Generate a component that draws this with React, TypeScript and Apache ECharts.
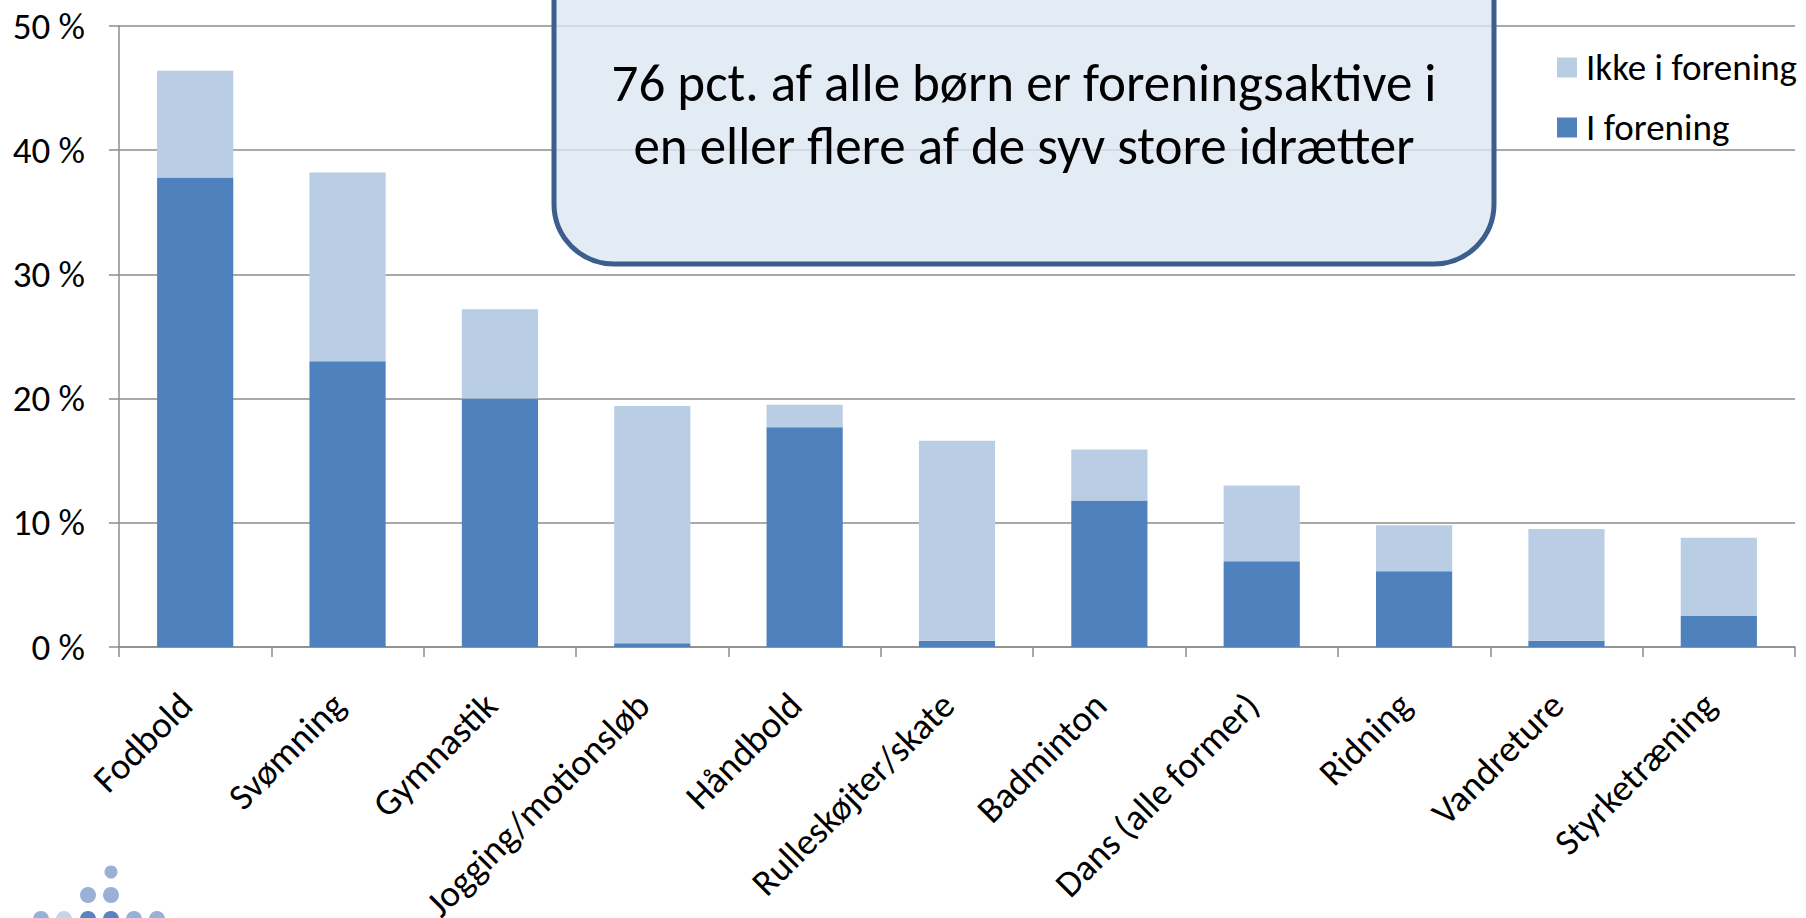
import React, { useEffect, useRef } from "react";
import * as echarts from "echarts";

const categories = [
  "Fodbold",
  "Svømning",
  "Gymnastik",
  "Jogging/motionsløb",
  "Håndbold",
  "Rulleskøjter/skate",
  "Badminton",
  "Dans (alle former)",
  "Ridning",
  "Vandreture",
  "Styrketræning",
];
const iForening = [37.8, 23.0, 20.0, 0.3, 17.7, 0.5, 11.8, 6.9, 6.1, 0.5, 2.5];
const ikkeIForening = [8.6, 15.2, 7.2, 19.1, 1.8, 16.1, 4.1, 6.1, 3.7, 9.0, 6.3];
const seriesNames = ["I forening", "Ikke i forening"];
const yMin = 0;
const yMax = 50;
const yStep = 10;
const boxLines = ["76 pct. af alle børn er foreningsaktive i", "en eller flere af de syv store idrætter"];

const FONT = "Carlito, Calibri, Lato, sans-serif";
const GRID_GRAY = "#8c8c8c";

export default function App() {
  const ref = useRef<HTMLDivElement>(null);

  useEffect(() => {
    if (!ref.current) return;
    const chart = echarts.init(ref.current, undefined, { renderer: "svg" });

    const dots = [
      { cx: 111, cy: 872, r: 6.5, c: "#9ab0d6" },
      { cx: 88, cy: 895, r: 8, c: "#9ab0d6" },
      { cx: 111, cy: 895, r: 8, c: "#9ab0d6" },
      { cx: 41, cy: 919, r: 8, c: "#9ab0d6" },
      { cx: 64, cy: 919, r: 8, c: "#c6d3e9" },
      { cx: 88, cy: 919, r: 8, c: "#5b83be" },
      { cx: 111, cy: 919, r: 8, c: "#5b83be" },
      { cx: 134, cy: 919, r: 8, c: "#9ab0d6" },
      { cx: 157, cy: 919, r: 8, c: "#9ab0d6" },
    ];

    chart.setOption({
      animation: false,
      backgroundColor: "#ffffff",
      textStyle: { fontFamily: FONT },
      grid: {
        left: 119,
        right: 11,
        top: 26,
        bottom: 271,
        containLabel: false,
        outerBoundsMode: "none",
      },
      legend: {
        data: ["Ikke i forening", "I forening"],
        orient: "vertical",
        left: 1552,
        top: 44,
        icon: "rect",
        itemWidth: 20,
        itemHeight: 20,
        itemGap: 23,
        textStyle: { fontSize: 37, lineHeight: 37, color: "#000", fontFamily: FONT, padding: [0, 0, 0, 4] },
      },
      xAxis: {
        type: "category",
        data: categories,
        boundaryGap: true,
        axisLine: { show: true, lineStyle: { color: GRID_GRAY, width: 1.5 } },
        axisTick: { show: true, interval: 0, length: 10, lineStyle: { color: GRID_GRAY, width: 1.5 } },
        axisLabel: {
          interval: 0,
          rotate: 45,
          margin: 43,
          padding: [0, 13, 0, 0],
          fontSize: 37,
          color: "#000",
          fontFamily: FONT,
        },
      },
      yAxis: {
        type: "value",
        min: yMin,
        max: yMax,
        interval: yStep,
        axisLine: { show: true, lineStyle: { color: GRID_GRAY, width: 1.5 } },
        axisTick: { show: true, length: 10, lineStyle: { color: GRID_GRAY, width: 1.5 } },
        splitLine: { show: true, lineStyle: { color: GRID_GRAY, width: 1.5 } },
        axisLabel: {
          formatter: "{value} %",
          margin: 34,
          fontSize: 37,
          color: "#000",
          fontFamily: FONT,
        },
      },
      series: [
        {
          name: seriesNames[0],
          type: "bar",
          stack: "total",
          barWidth: "50%",
          data: iForening,
          itemStyle: { color: "#4f81bd" },
        },
        {
          name: seriesNames[1],
          type: "bar",
          stack: "total",
          barWidth: "50%",
          data: ikkeIForening,
          itemStyle: { color: "#b9cde5" },
        },
      ],
      graphic: [
        {
          type: "rect",
          z: 100,
          shape: { x: 554, y: -70, width: 940, height: 334, r: 60 },
          style: { fill: "rgba(220,230,242,0.8)", stroke: "#3b5e8c", lineWidth: 5 },
        },
        {
          type: "text",
          z: 101,
          x: 1024,
          y: 83,
          style: {
            text: boxLines[0],
            fontSize: 53,
            fontFamily: FONT,
            fill: "#000",
            align: "center",
            verticalAlign: "middle",
          },
        },
        {
          type: "text",
          z: 101,
          x: 1024,
          y: 146,
          style: {
            text: boxLines[1],
            fontSize: 53,
            fontFamily: FONT,
            fill: "#000",
            align: "center",
            verticalAlign: "middle",
          },
        },
        ...dots.map((d) => ({
          type: "circle",
          z: 100,
          shape: { cx: d.cx, cy: d.cy, r: d.r },
          style: { fill: d.c },
        })),
      ],
    });

    return () => {
      chart.dispose();
    };
  }, []);

  return (
    <div
      ref={ref}
      style={{ position: "fixed", left: 0, top: 0, width: 1806, height: 918 }}
    />
  );
}
